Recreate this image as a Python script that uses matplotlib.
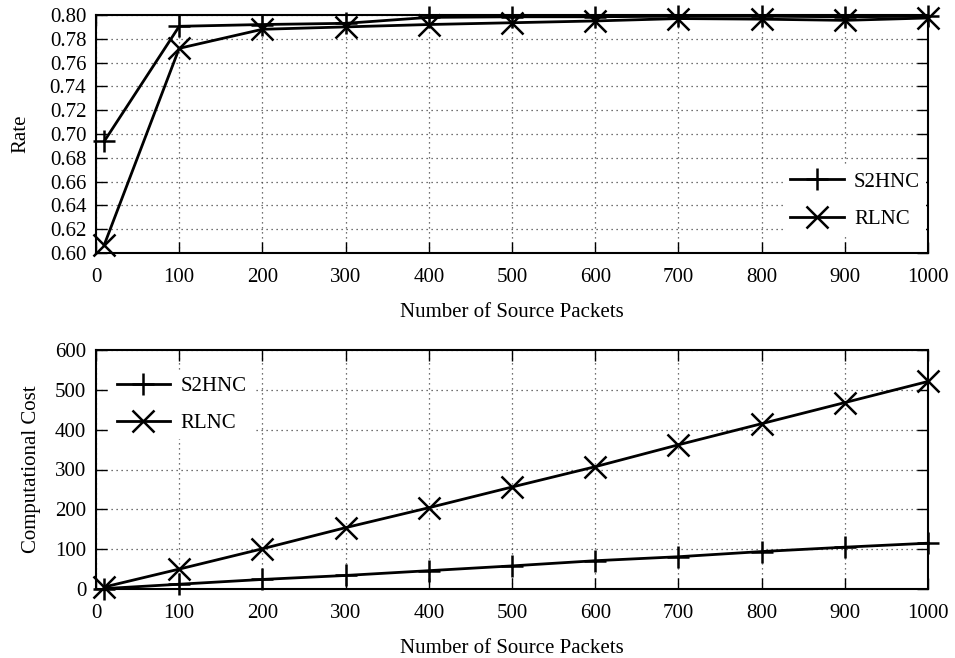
import numpy as np
import matplotlib
matplotlib.use('Agg')
import matplotlib.pyplot as plt

plt.rcParams['font.family'] = ['Liberation Serif', 'DejaVu Serif']
plt.rcParams['font.size'] = 15

packets = [10, 100, 200, 300, 400, 500, 600, 700, 800, 900, 1000]

rate_s2hnc = [0.694, 0.7905, 0.792, 0.793, 0.798, 0.7985, 0.7985, 0.799, 0.799, 0.7985, 0.799]
rate_rlnc = [0.607, 0.772, 0.788, 0.790, 0.792, 0.7935, 0.795, 0.797, 0.7965, 0.7955, 0.7975]

cost_s2hnc = [1, 12, 24, 34, 46, 58, 71, 81, 94, 105, 115]
cost_rlnc = [5, 50, 101, 154, 204, 256, 307, 362, 415, 468, 521]

xticks = list(range(0, 1001, 100))
rate_ticks = [0.60 + 0.02*k for k in range(11)]
cost_ticks = list(range(0, 601, 100))

W, H = 955, 658
fig = plt.figure(figsize=(W/100, H/100), dpi=100)

def style(ax):
	ax.set_xlim(0, 1000)
	ax.set_xticks(xticks)
	ax.tick_params(direction='in', length=8, width=1, top=True, right=True)
	ax.tick_params(axis='x', pad=11)
	ax.tick_params(axis='y', pad=7)
	ax.grid(True, color='#444444', linestyle=(0, (1, 3)), linewidth=0.9)
	for s in ax.spines.values():
		s.set_linewidth(1.5)
	ax.set_xlabel('Number of Source Packets', labelpad=11)

# markers are not clipped at the frame, like gnuplot
line_kw = dict(color='black', linewidth=2, markersize=16, markeredgewidth=1.8, clip_on=False)
leg_kw = dict(handlelength=2.55, handletextpad=0.5, labelspacing=0.85, frameon=True,
	framealpha=1, facecolor='white', edgecolor='none', fancybox=False, borderpad=0.3)

# top panel: rate
ax1 = fig.add_axes([96/W, 1-253/H, 832/W, 238/H])
ax1.plot(packets, rate_s2hnc, marker='+', label='S2HNC', **line_kw)
ax1.plot(packets, rate_rlnc, marker='x', label='RLNC', **line_kw)
ax1.set_ylim(0.60, 0.80)
ax1.set_yticks(rate_ticks)
ax1.set_yticklabels(['{0:.2f}'.format(t) for t in rate_ticks])
ax1.set_ylabel('Rate', va='center')
ax1.yaxis.set_label_coords((21-96)/832, 0.5)
style(ax1)
ax1.legend(loc='center left', bbox_to_anchor=(0.8146, 0.221), **leg_kw)

# bottom panel: cost
ax2 = fig.add_axes([96/W, 1-589/H, 832/W, 239/H])
ax2.plot(packets, cost_s2hnc, marker='+', label='S2HNC', **line_kw)
ax2.plot(packets, cost_rlnc, marker='x', label='RLNC', **line_kw)
ax2.set_ylim(0, 600)
ax2.set_yticks(cost_ticks)
ax2.set_ylabel('Computational Cost', va='center')
ax2.yaxis.set_label_coords((32-96)/832, 0.5)
style(ax2)
ax2.legend(loc='center left', bbox_to_anchor=(0.005, 0.771), **leg_kw)

fig.savefig('out.png', dpi=100)
